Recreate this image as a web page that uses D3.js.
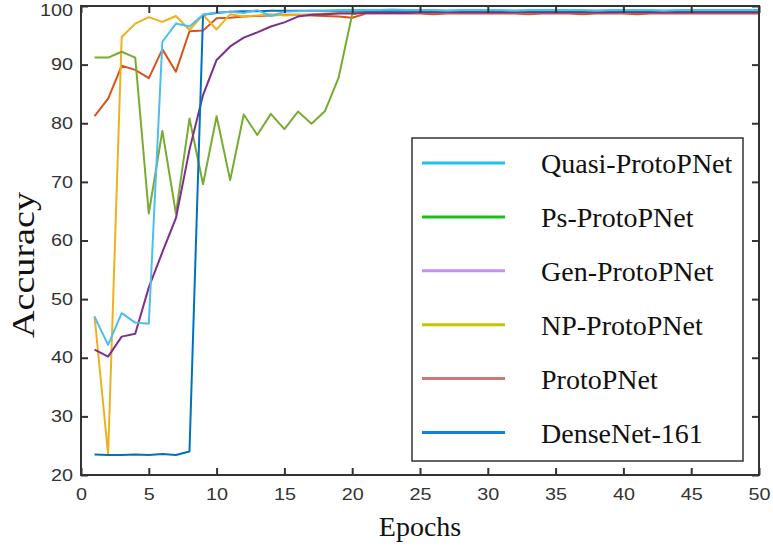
<!DOCTYPE html>
<html><head><meta charset="utf-8">
<script src="https://cdn.jsdelivr.net/npm/d3@7"></script>
<style>body{margin:0;background:#fff}svg{display:block}</style>
</head><body><svg id="c" width="773" height="546"></svg>
<script>
const epochs = d3.range(1, 51);
const quasi = [47.0,42.2,47.6,46.0,45.8,93.9,97.0,96.5,98.5,98.9,99.0,98.8,99.3,98.3,99.0,99.1,99.2,99.2,99.3,99.3,99.3,99.3,99.4,99.3,99.3,99.3,99.2,99.3,99.3,99.3,99.3,99.2,99.3,99.3,99.3,99.3,99.3,99.2,99.3,99.3,99.3,99.3,99.2,99.3,99.3,99.3,99.3,99.3,99.3,99.3];
const ps = [91.2,91.2,92.2,91.2,64.6,78.7,64.6,80.8,69.6,81.2,70.3,81.5,78.0,81.6,79.0,82.0,79.9,82.1,87.8,98.6,99.0,99.0,99.0,99.0,99.0,99.0,99.0,99.1,99.0,99.0,99.0,99.0,99.0,99.0,99.0,99.0,99.1,99.0,99.0,99.0,99.0,99.0,99.0,99.0,99.0,99.0,99.0,99.0,99.0,99.0];
const gen = [41.4,40.2,43.6,44.1,52.0,58.0,63.8,75.5,84.8,90.8,93.1,94.6,95.5,96.5,97.2,98.2,98.5,98.6,98.7,98.7,98.8,98.8,98.8,98.8,98.9,98.9,98.9,98.9,98.9,98.9,98.9,98.9,98.9,98.9,98.9,98.9,98.9,98.9,98.9,98.9,98.9,98.9,98.9,98.9,98.9,98.9,98.9,98.9,98.9,98.9];
const np = [47.1,23.5,94.7,97.0,98.1,97.3,98.3,95.9,98.5,96.0,98.6,98.2,98.4,98.6,98.4,98.5,98.6,98.7,98.8,98.8,98.9,98.9,98.8,98.9,98.9,98.9,98.8,98.9,98.9,98.9,98.9,98.9,98.8,98.9,98.9,98.9,98.9,98.9,98.9,98.8,98.9,98.9,98.9,98.9,98.9,98.9,98.9,98.9,98.9,98.9];
const proto = [81.2,84.2,89.8,89.1,87.7,92.6,88.8,95.7,95.8,97.9,98.0,98.2,98.3,98.4,98.5,98.5,98.4,98.3,98.2,98.0,98.7,98.7,98.7,98.7,98.7,98.6,98.7,98.7,98.7,98.7,98.7,98.7,98.6,98.7,98.7,98.7,98.6,98.7,98.7,98.7,98.6,98.7,98.7,98.7,98.7,98.7,98.7,98.7,98.7,98.7];
const dense = [23.5,23.4,23.4,23.5,23.4,23.6,23.4,24.0,98.5,98.8,99.0,99.1,99.1,99.2,99.2,99.2,99.2,99.2,99.2,99.2,99.2,99.2,99.2,99.2,99.2,99.2,99.2,99.2,99.2,99.2,99.2,99.2,99.2,99.2,99.2,99.2,99.2,99.2,99.2,99.2,99.2,99.2,99.2,99.2,99.2,99.2,99.2,99.2,99.2,99.2];
const seriesNames = ["Quasi-ProtoPNet","Ps-ProtoPNet","Gen-ProtoPNet","NP-ProtoPNet","ProtoPNet","DenseNet-161"];
const seriesValues = [quasi, ps, gen, np, proto, dense];
const lineColors = ["#4DBEEE","#77AC30","#7E2F8E","#EDB120","#D95319","#0072BD"];
const legendColors = ["#22c0ee","#18c018","#c890f0","#c8c400","#c87a78","#1080e0"];
const xTicks = d3.range(0, 51, 5);
const yTicks = d3.range(20, 101, 10);
const drawOrder = [4, 3, 1, 2, 5, 0];

const svg = d3.select("#c");
const L = 81, R = 759, T = 6, B = 475;
const x = d3.scaleLinear().domain([0, 50]).range([L, R]);
const y = d3.scaleLinear().domain([20, 100]).range([B, T]);

const line = d3.line().x((d, i) => x(epochs[i])).y(d => y(d));
drawOrder.forEach(k => {
  svg.append("path").datum(seriesValues[k]).attr("d", line)
    .attr("fill", "none").attr("stroke", lineColors[k]).attr("stroke-width", 2)
    .attr("stroke-linejoin", "round");
});

const axCol = "#333";
const tl = 7;
function styleAxis(g, labels) {
  g.select(".domain").remove();
  g.selectAll(".tick line").attr("stroke", axCol).attr("stroke-width", 2);
  if (!labels) g.selectAll(".tick text").remove();
  else g.selectAll(".tick text").attr("fill", "#333")
    .attr("font-family", "Liberation Sans, Arial, sans-serif").attr("font-size", 16)
    .attr("textLength", function() { return this.textContent.length * 11; })
    .attr("lengthAdjust", "spacingAndGlyphs");
}
svg.append("g").attr("transform", `translate(0,${B})`)
  .call(d3.axisBottom(x).tickValues(xTicks).tickSizeInner(-tl).tickSizeOuter(0).tickPadding(14))
  .call(g => styleAxis(g, true));
svg.append("g").attr("transform", `translate(0,${T})`)
  .call(d3.axisTop(x).tickValues(xTicks).tickSizeInner(-tl).tickSizeOuter(0))
  .call(g => styleAxis(g, false));
svg.append("g").attr("transform", `translate(${L},0)`)
  .call(d3.axisLeft(y).tickValues(yTicks).tickSizeInner(-tl).tickSizeOuter(0).tickPadding(8))
  .call(g => styleAxis(g, true))
  .call(g => g.selectAll(".tick text").filter(d => d === 100).attr("dy", "0.62em"));
svg.append("g").attr("transform", `translate(${R},0)`)
  .call(d3.axisRight(y).tickValues(yTicks).tickSizeInner(-tl).tickSizeOuter(0))
  .call(g => styleAxis(g, false));
svg.append("rect").attr("x", L).attr("y", T).attr("width", R - L).attr("height", B - T)
  .attr("fill", "none").attr("stroke", axCol).attr("stroke-width", 2);

// legend
const lg = svg.append("g");
lg.append("rect").attr("x", 412).attr("y", 138).attr("width", 331).attr("height", 323)
  .attr("fill", "#fff").attr("stroke", axCol).attr("stroke-width", 1.5);
seriesNames.forEach((n, i) => {
  const yy = 163 + i * 53.9;
  lg.append("line").attr("x1", 422).attr("x2", 505).attr("y1", yy).attr("y2", yy)
    .attr("stroke", legendColors[i]).attr("stroke-width", 3);
  lg.append("text").attr("x", 541).attr("y", yy + 10).text(n)
    .attr("font-family", "Liberation Serif, Times New Roman, serif").attr("font-size", 28).attr("fill", "#111");
});

svg.append("text").attr("x", (L + R) / 2).attr("y", 536).attr("text-anchor", "middle")
  .attr("font-family", "Liberation Serif, Times New Roman, serif").attr("font-size", 28).attr("fill", "#111").text("Epochs");
svg.append("text").attr("transform", "translate(34,265) rotate(-90)").attr("text-anchor", "middle")
  .attr("font-family", "Liberation Serif, Times New Roman, serif").attr("font-size", 32).attr("fill", "#111")
  .attr("textLength", 146).attr("lengthAdjust", "spacingAndGlyphs").text("Accuracy");
</script></body></html>
